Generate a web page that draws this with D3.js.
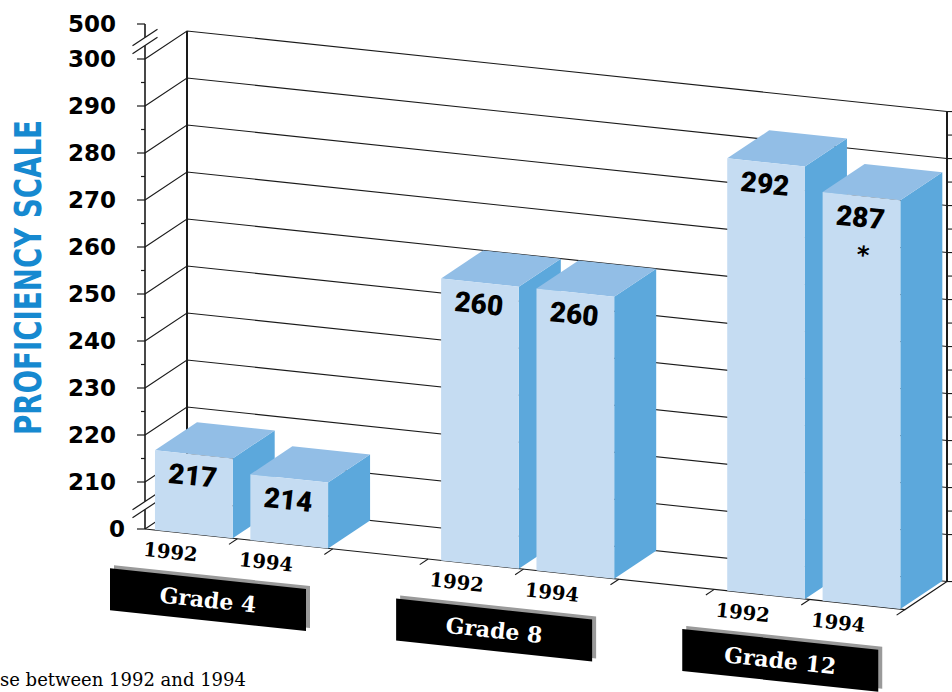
<!DOCTYPE html>
<html><head><meta charset="utf-8">
<script src="https://cdn.jsdelivr.net/npm/d3@7"></script>
<style>body{margin:0;background:#fff}svg{display:block}</style>
</head><body>
<script>
// ---- data ----
const grades = ["Grade 4", "Grade 8", "Grade 12"];
const years = ["1992", "1994"];
const scores1992 = [217, 260, 292];
const scores1994 = [214, 260, 287];
const significant1994 = [false, false, true];
const tickValues = [0, 210, 220, 230, 240, 250, 260, 270, 280, 290, 300, 500];
const tickLabels = ["0", "210", "220", "230", "240", "250", "260", "270", "280", "290", "300", "500"];
const minorTicks = [215, 225, 235, 245, 255, 265, 275, 285, 295];
const gridValues = [0, 210, 220, 230, 240, 250, 260, 270, 280, 290, 300];
const axisTitle = "PROFICIENCY SCALE";
const footnote = "se between 1992 and 1994";

// ---- layout ----
const W = 952, H = 692;
const svg = d3.select("body").append("svg").attr("width", W).attr("height", H);

const y = d3.scaleLinear().domain([0, 205, 300, 500]).range([529, 505.5, 59, 24]);
const x = d3.scaleLinear().domain([0, 8]).range([142, 905]);
const slotW = x(1) - x(0);
const X0 = 145, XEND = x(8), SL = 0.106, DX = 42, DY = -28;
const ANG = Math.atan(SL) * 180 / Math.PI;
const proj = (xf, v, z) => [xf + z * DX, y(v) + SL * (xf - X0) + z * DY];
const floorY = xf => y(0) + SL * (xf - X0);
const line = d3.line();
const ink = "#1a1a1a";

// build bar table
const bars = [];
grades.forEach((g, gi) => {
  [scores1992[gi], scores1994[gi]].forEach((v, yi) => {
    bars.push({grade: g, gi, year: years[yi], value: v, slot: gi * 3 + yi,
      star: yi === 1 && significant1994[gi]});
  });
});

// ---- back wall grid ----
const grid = svg.append("g").attr("fill", "none").attr("stroke", ink).attr("stroke-width", 1.1);
gridValues.forEach(v => {
  grid.append("path").attr("d", line([proj(X0, v, 0), proj(X0, v, 1), proj(XEND, v, 1)]));
});
gridValues.concat(minorTicks).forEach(v => {
  const p = proj(XEND, v, 1);
  grid.append("path").attr("d", line([p, [p[0] + 7, p[1]]]));
});
grid.append("path").attr("stroke-width", 2).attr("d", line([proj(X0, 0, 1), proj(X0, 300, 1)]));
grid.append("path").attr("stroke-width", 2).attr("d", line([proj(XEND, 0, 1), proj(XEND, 300, 1)]));
grid.append("path").attr("d", line([proj(X0, 0, 0), proj(XEND, 0, 0), proj(XEND, 0, 1)]));
for (let k = 1; k <= 8; k++) {
  grid.append("path").attr("d", line([proj(x(k), 0, 0), proj(x(k), 0, -0.2)]));
}

// ---- left axis ----
const ax = svg.append("g").attr("stroke", ink).attr("fill", "none");
ax.append("path").attr("stroke-width", 1.6).attr("d", line([[X0, y(0)], [X0, y(500)]]));
tickValues.forEach(v => ax.append("path").attr("stroke-width", 1.2).attr("d", line([[X0 - 8, y(v)], [X0, y(v)]])));
minorTicks.forEach(v => ax.append("path").attr("stroke-width", 1.2).attr("d", line([[X0 - 4, y(v)], [X0, y(v)]])));
function breakMark(v) {
  const cy = y(v), hx = 12.5, s = DY / DX, gap = 4;
  const a1 = [X0 - hx, cy - gap - s * hx], a2 = [X0 + hx, cy - gap + s * hx];
  const b1 = [X0 - hx, cy + gap - s * hx], b2 = [X0 + hx, cy + gap + s * hx];
  ax.append("path").attr("fill", "#fff").attr("stroke", "none").attr("d", line([a1, a2, b2, b1]) + "Z");
  ax.append("path").attr("stroke-width", 1.2).attr("d", line([a1, a2]));
  ax.append("path").attr("stroke-width", 1.2).attr("d", line([b1, b2]));
}
breakMark(400);
breakMark(205);

svg.append("g").selectAll("text").data(tickValues).join("text")
  .attr("x", (d, i) => tickLabels[i] === "0" ? 125 : 116)
  .attr("y", d => y(d)).attr("dy", "0.36em")
  .attr("text-anchor", "end")
  .attr("font-family", "DejaVu Sans, sans-serif").attr("font-weight", "bold")
  .attr("font-size", 23).attr("fill", "#000")
  .text((d, i) => tickLabels[i]);

svg.append("text")
  .attr("transform", "translate(41,277.5) rotate(-90)")
  .attr("text-anchor", "middle")
  .attr("font-family", "DejaVu Sans, sans-serif").attr("font-weight", "bold")
  .attr("font-stretch", "condensed")
  .attr("font-size", 38).attr("fill", "#1689D0")
  .attr("textLength", 315).attr("lengthAdjust", "spacingAndGlyphs")
  .text(axisTitle);

// ---- bars ----
const colFront = "#C5DCF2", colSide = "#5CA8DC", colTop = "#92BEE6";
const bg = svg.append("g");
bars.forEach(b => {
  const xl = x(b.slot) + 0.136 * slotW, xr = xl + 0.815 * slotW, v = b.value;
  const g = bg.append("g");
  g.append("path").attr("fill", colSide)
    .attr("d", line([proj(xr, 0, 0), proj(xr, 0, 1), proj(xr, v, 1), proj(xr, v, 0)]) + "Z");
  g.append("path").attr("fill", colTop)
    .attr("d", line([proj(xl, v, 0), proj(xr, v, 0), proj(xr, v, 1), proj(xl, v, 1)]) + "Z");
  g.append("path").attr("fill", colFront)
    .attr("d", line([proj(xl, 0, 0), proj(xr, 0, 0), proj(xr, v, 0), proj(xl, v, 0)]) + "Z");
  const cx = (xl + xr) / 2 - 1;
  const cy = proj(cx, v, 0)[1] + 21;
  g.append("text").attr("transform", `translate(${cx},${cy}) rotate(${ANG})`)
    .attr("text-anchor", "middle").attr("dy", "0.36em")
    .attr("font-family", "Roboto, sans-serif").attr("font-weight", 900)
    .attr("font-size", 28).attr("fill", "#000").text(v);
  if (b.star) {
    g.append("text").attr("transform", `translate(${cx + 3},${cy + 33}) rotate(${ANG})`)
      .attr("text-anchor", "middle").attr("dy", "0.55em")
      .attr("font-family", "DejaVu Sans, sans-serif").attr("font-weight", "bold")
      .attr("font-size", 24).attr("fill", "#000").text("*");
  }
  const yx = (xl + xr) / 2 - 24, yy = floorY(yx) + 27;
  svg.append("text").attr("transform", `translate(${yx},${yy}) rotate(${ANG})`)
    .attr("text-anchor", "middle")
    .attr("font-family", "DejaVu Serif, serif").attr("font-weight", "bold")
    .attr("font-size", 19.5).attr("fill", "#000").text(b.year);
});

// ---- grade boxes ----
grades.forEach((gname, gi) => {
  const xb = x(gi * 3) - 32, bw = 196, bh = 42;
  const t = floorY(xb) + 43;
  const pts = [[xb, t], [xb + bw, t + bw * SL], [xb + bw, t + bw * SL + bh], [xb, t + bh]];
  svg.append("path").attr("fill", "#9a9a9a")
    .attr("d", line(pts.map(p => [p[0] + 4, p[1] - 3])) + "Z");
  svg.append("path").attr("fill", "#000").attr("d", line(pts) + "Z");
  const cx = xb + bw / 2, cy = t + (bw / 2) * SL + bh / 2;
  svg.append("text").attr("transform", `translate(${cx},${cy}) rotate(${ANG})`)
    .attr("text-anchor", "middle").attr("dy", "0.36em")
    .attr("font-family", "DejaVu Serif, serif").attr("font-weight", "bold")
    .attr("font-size", 22).attr("fill", "#fff").text(gname);
});

svg.append("text").attr("x", 0).attr("y", 686)
  .attr("font-family", "DejaVu Serif, serif").attr("font-size", 18).attr("fill", "#000")
  .text(footnote);
</script>
</body></html>
